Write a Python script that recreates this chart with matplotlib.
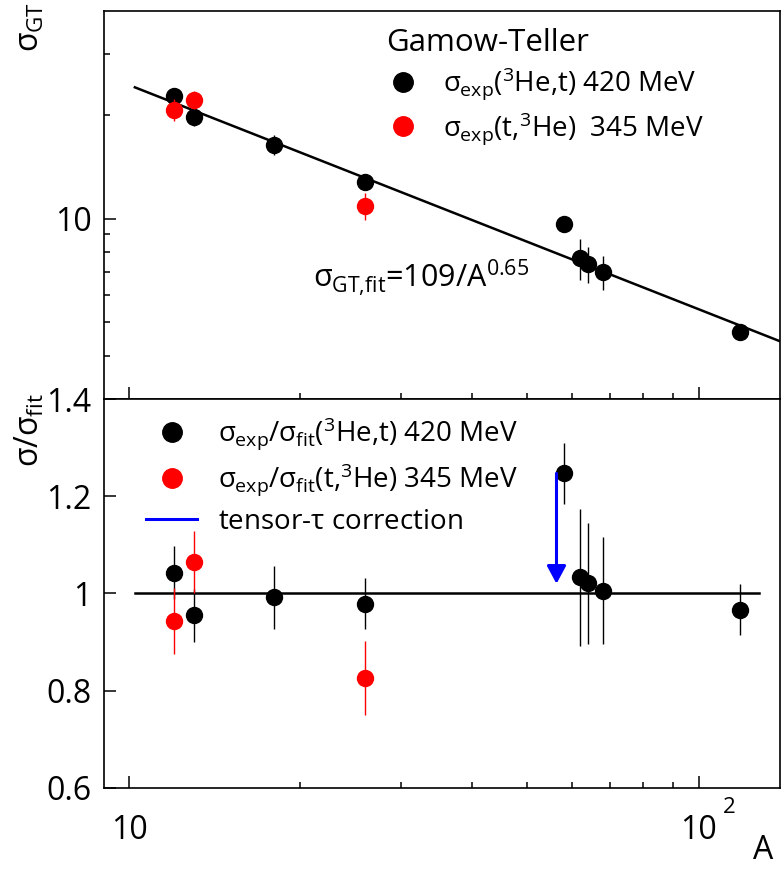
import matplotlib
matplotlib.use('Agg')
import matplotlib.pyplot as plt
from matplotlib.lines import Line2D
from matplotlib.ticker import FixedLocator, FixedFormatter, NullFormatter
import matplotlib.transforms as mtransforms
import numpy as np

plt.rcParams['font.family'] = ['Open Sans', 'DejaVu Sans']
plt.rcParams['mathtext.fontset'] = 'custom'
plt.rcParams['mathtext.rm'] = 'Open Sans'
plt.rcParams['mathtext.it'] = 'Open Sans'
plt.rcParams['mathtext.bf'] = 'Open Sans'
plt.rcParams['mathtext.sf'] = 'Open Sans'

# (3He,t) 420 MeV
A_he = [12, 13, 18, 26, 58, 62, 64, 68, 118]
sig_he = [22.7, 19.7, 16.4, 12.8, 9.67, 7.70, 7.39, 7.0, 4.69]
sig_he_err = [1.2, 1.1, 1.1, 0.7, 0.5, 1.05, 0.9, 0.77, 0.25]
ratio_he = [1.043, 0.955, 0.992, 0.979, 1.247, 1.033, 1.021, 1.006, 0.967]
ratio_he_err = [0.055, 0.055, 0.065, 0.052, 0.062, 0.14, 0.124, 0.11, 0.052]

# (t,3He) 345 MeV
A_t = [12, 13, 26]
sig_t = [20.7, 22.1, 10.9]
sig_t_err = [1.5, 1.3, 1.0]
ratio_t = [0.944, 1.064, 0.827]
ratio_t_err = [0.068, 0.064, 0.076]

# fit sigma_GT = 109/A^0.65
fit_norm = 109
fit_pow = 0.65
fit_range = [10.24, 139]
unity_range = [10.24, 127.6]

# tensor-tau correction arrow
arrow_A = 56.3
arrow_from = 1.247
arrow_to = 1.02

fig = plt.figure(figsize=(7.81, 8.71), dpi=100)
ax1 = fig.add_axes([0.1332, 0.5419, 0.8656, 0.4455])
ax2 = fig.add_axes([0.1332, 0.0953, 0.8656, 0.4466])

ms = 11.5     # data markers
lms = 14      # legend markers
fs = 23

# ---- top panel
fit_A = np.logspace(np.log10(fit_range[0]), np.log10(fit_range[1]), 60)
ax1.plot(fit_A, fit_norm / fit_A**fit_pow, color='black', lw=1.8, zorder=2)
ax1.errorbar(A_he, sig_he, yerr=sig_he_err, fmt='o', color='black', ms=ms,
             elinewidth=1, capsize=0, zorder=3)
ax1.errorbar(A_t, sig_t, yerr=sig_t_err, fmt='o', color='red', ms=ms,
             elinewidth=1, capsize=0, zorder=4)

ax1.set_xscale('log')
ax1.set_yscale('log')
ax1.set_xlim(9.04, 139)
ax1.set_ylim(3, 40)
ax1.yaxis.set_major_locator(FixedLocator([10]))
ax1.yaxis.set_major_formatter(FixedFormatter(['10']))
ax1.yaxis.set_minor_locator(FixedLocator([4, 5, 6, 7, 8, 9, 20, 30]))
ax1.yaxis.set_minor_formatter(NullFormatter())
ax1.xaxis.set_major_locator(FixedLocator([10, 100]))
ax1.xaxis.set_minor_locator(FixedLocator([20, 30, 40, 50, 60, 70, 80, 90]))
ax1.xaxis.set_minor_formatter(NullFormatter())
ax1.tick_params(which='both', direction='in', labelbottom=False, labelsize=fs,
                top=False, right=False, width=1.1, pad=9)
ax1.tick_params(which='major', length=8.6)
ax1.tick_params(which='minor', length=4.3)

ax1.set_ylabel(r'$\sigma_{\rm GT}$', loc='top', fontsize=fs)
ax1.yaxis.set_label_coords(-0.085, 1.023)

ax1.text(0.309, 0.289, r'$\sigma_{\rm GT{,}fit}$=109/A$^{0.65}$', fontsize=22,
         transform=ax1.transAxes, va='baseline')

h_top = [Line2D([], [], marker='o', ls='none', color='black', ms=lms),
         Line2D([], [], marker='o', ls='none', color='red', ms=lms)]
l_top = [r'$\sigma_{\rm exp}(^{3}$He,t) 420 MeV',
         r'$\sigma_{\rm exp}$(t,$^{3}$He)  345 MeV']
leg1 = ax1.legend(h_top, l_top, title='Gamow-Teller', loc='upper left',
                  bbox_to_anchor=(0.417, 0.957), frameon=False, fontsize=20,
                  title_fontsize=22.5, alignment='left', handlelength=1.2,
                  handletextpad=0.85, labelspacing=0.3, borderpad=0,
                  borderaxespad=0)

# ---- bottom panel
ax2.plot(unity_range, [1, 1], color='black', lw=1.8, zorder=2)
ax2.errorbar(A_he, ratio_he, yerr=ratio_he_err, fmt='o', color='black', ms=ms,
             elinewidth=1, capsize=0, zorder=3)
ax2.errorbar(A_t, ratio_t, yerr=ratio_t_err, fmt='o', color='red', ms=ms,
             elinewidth=1, capsize=0, zorder=4)
ax2.annotate('', xy=(arrow_A, arrow_to), xytext=(arrow_A, arrow_from),
             arrowprops=dict(arrowstyle='-|>,head_length=0.54,head_width=0.29',
                             color='blue', lw=2.2, mutation_scale=20,
                             shrinkA=0, shrinkB=0), zorder=5)

ax2.set_xscale('log')
ax2.set_xlim(9.04, 139)
ax2.set_ylim(0.6, 1.4)
ax2.yaxis.set_major_locator(FixedLocator([0.6, 0.8, 1.0, 1.2, 1.4]))
ax2.yaxis.set_major_formatter(FixedFormatter(['0.6', '0.8', '1', '1.2', '1.4']))
ax2.xaxis.set_major_locator(FixedLocator([10, 100]))
ax2.xaxis.set_major_formatter(FixedFormatter(['10', '10']))
ax2.xaxis.set_minor_locator(FixedLocator([20, 30, 40, 50, 60, 70, 80, 90]))
ax2.xaxis.set_minor_formatter(NullFormatter())
ax2.tick_params(which='both', direction='in', labelsize=fs, top=False,
                right=False, width=1.1)
ax2.tick_params(axis='y', pad=9)
ax2.tick_params(axis='x', pad=19)
ax2.tick_params(which='major', length=8.6)
ax2.tick_params(which='minor', length=4.3)

trans = mtransforms.blended_transform_factory(ax2.transData, ax2.transAxes)
ax2.text(113, -0.049, '2', fontsize=16, transform=trans, ha='center', va='center')

ax2.set_ylabel(r'$\sigma/\sigma_{\rm fit}$', loc='top', fontsize=fs)
ax2.yaxis.set_label_coords(-0.085, 1.015)
ax2.set_xlabel('A', loc='right', fontsize=fs)
ax2.xaxis.set_label_coords(0.99, -0.118)

h_bot = [Line2D([], [], marker='o', ls='none', color='black', ms=lms),
         Line2D([], [], marker='o', ls='none', color='red', ms=lms),
         Line2D([], [], color='blue', lw=2.2)]
l_bot = [r'$\sigma_{\rm exp}/\sigma_{\rm fit}(^{3}$He,t) 420 MeV',
         r'$\sigma_{\rm exp}/\sigma_{\rm fit}$(t,$^{3}$He) 345 MeV',
         r'tensor-$\tau$ correction']
ax2.legend(h_bot, l_bot, loc='upper left', bbox_to_anchor=(0.062, 0.957),
           frameon=False, fontsize=20, handlelength=1.85, handletextpad=0.75,
           labelspacing=0.36, borderpad=0, borderaxespad=0)

for ax in (ax1, ax2):
    for sp in ax.spines.values():
        sp.set_linewidth(1.2)

fig.savefig('out.png', dpi=100)
